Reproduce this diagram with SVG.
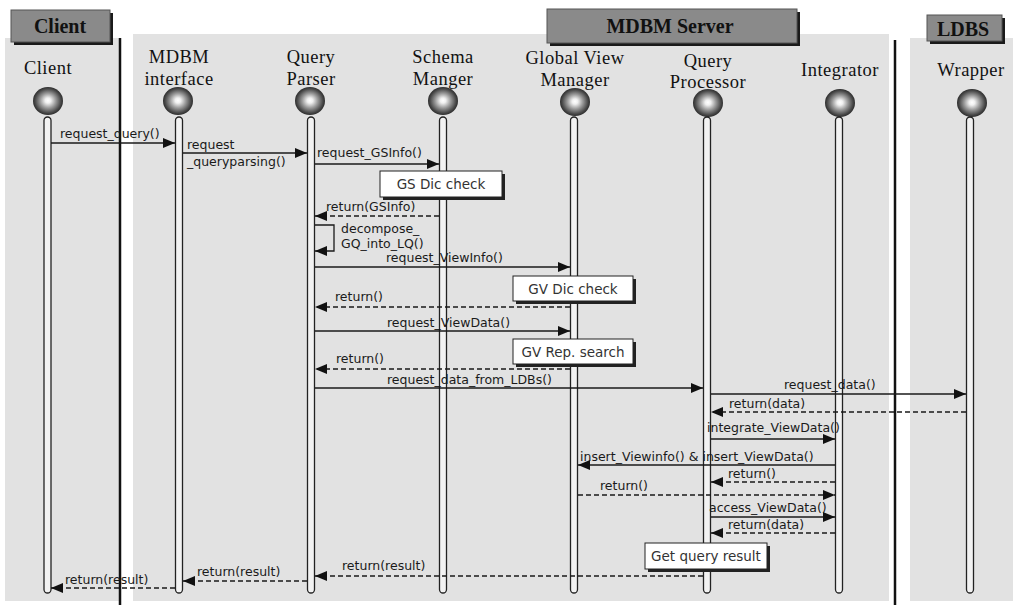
<svg xmlns="http://www.w3.org/2000/svg" width="1013" height="605" viewBox="0 0 1013 605">
<style>
.hdr{fill:#8a8a8a;stroke:#555;stroke-width:1}
.hdrsh{fill:#1a1a1a}
.hdrt{font-family:"Liberation Serif",serif;font-weight:bold;font-size:20px;fill:#111;text-anchor:middle}
.nm{font-family:"Liberation Serif",serif;font-size:18.5px;letter-spacing:0.5px;fill:#111;text-anchor:middle}
.life{fill:#f2f2f2;stroke:#222;stroke-width:1.3}
.msg{stroke:#1a1a1a;stroke-width:1.3;fill:none}
.dash{stroke-dasharray:5,3}
.lbl{font-family:"DejaVu Sans","Liberation Sans",sans-serif;font-size:12.5px;fill:#1a1a1a}
.note{fill:#fff;stroke:#222;stroke-width:1}
.notesh{fill:#222}
.notet{font-family:"DejaVu Sans","Liberation Sans",sans-serif;font-size:13.5px;fill:#333;text-anchor:middle}
</style>
<defs>
<radialGradient id="sph" cx="50%" cy="50%" r="52%" fx="50%" fy="48%">
<stop offset="0" stop-color="#ffffff"/>
<stop offset="0.18" stop-color="#f0f0f0"/>
<stop offset="0.5" stop-color="#9a9a9a"/>
<stop offset="0.82" stop-color="#4a4a4a"/>
<stop offset="1" stop-color="#262626"/>
</radialGradient>
<marker id="ah" markerUnits="userSpaceOnUse" markerWidth="13" markerHeight="10" refX="12" refY="5" orient="auto">
<path d="M0,0 L12,5 L0,10 Z" fill="#111"/>
</marker>
</defs>

<g id="background">
<rect x="0" y="0" width="1013" height="605" fill="#ffffff"/>
<rect x="5" y="38" width="114" height="563" fill="#e2e2e2"/>
<rect x="133" y="34" width="756" height="567" fill="#e2e2e2"/>
<rect x="910" y="38" width="103" height="563" fill="#e2e2e2"/>
<line x1="120" y1="38" x2="120" y2="605" stroke="#111" stroke-width="2.5"/>
<line x1="895" y1="40" x2="895" y2="605" stroke="#111" stroke-width="2.5"/>
</g>

<g id="header-client">
<rect class="hdrsh" x="14" y="13" width="99" height="32"/>
<rect class="hdr" x="11" y="10" width="99" height="32"/>
<text class="hdrt" x="60" y="33">Client</text>
</g>
<g id="header-mdbm-server">
<rect class="hdrsh" x="550" y="12" width="250" height="34"/>
<rect class="hdr" x="547" y="9" width="250" height="34"/>
<text class="hdrt" x="670" y="33">MDBM Server</text>
</g>
<g id="header-ldbs">
<rect class="hdrsh" x="930" y="18" width="75" height="26"/>
<rect class="hdr" x="927" y="15" width="75" height="26"/>
<text class="hdrt" x="963" y="36">LDBS</text>
</g>

<g id="node-client">
<text class="nm" x="48" y="74">Client</text>
<ellipse cx="48" cy="101" rx="15" ry="14" fill="url(#sph)"/>
<rect class="life" x="44" y="117" width="7" height="476" rx="3.5"/>
</g>
<g id="node-mdbm-interface">
<text class="nm" x="179" y="63">MDBM</text>
<text class="nm" x="179" y="85">interface</text>
<ellipse cx="178" cy="101" rx="15" ry="14" fill="url(#sph)"/>
<rect class="life" x="175.5" y="117" width="7" height="476" rx="3.5"/>
</g>
<g id="node-query-parser">
<text class="nm" x="311" y="63">Query</text>
<text class="nm" x="311" y="85">Parser</text>
<ellipse cx="310" cy="101" rx="15" ry="14" fill="url(#sph)"/>
<rect class="life" x="307.5" y="117" width="7" height="476" rx="3.5"/>
</g>
<g id="node-schema-manger">
<text class="nm" x="443" y="63">Schema</text>
<text class="nm" x="443" y="85">Manger</text>
<ellipse cx="443" cy="101" rx="15" ry="14" fill="url(#sph)"/>
<rect class="life" x="439.5" y="117" width="7" height="476" rx="3.5"/>
</g>
<g id="node-global-view-manager">
<text class="nm" x="575" y="64">Global View</text>
<text class="nm" x="575" y="86">Manager</text>
<ellipse cx="575" cy="102" rx="15" ry="14" fill="url(#sph)"/>
<rect class="life" x="570.5" y="117" width="7" height="476" rx="3.5"/>
</g>
<g id="node-query-processor">
<text class="nm" x="708" y="67">Query</text>
<text class="nm" x="708" y="88">Processor</text>
<ellipse cx="708" cy="103" rx="15" ry="14" fill="url(#sph)"/>
<rect class="life" x="703.5" y="117" width="7" height="476" rx="3.5"/>
</g>
<g id="node-integrator">
<text class="nm" x="840" y="76">Integrator</text>
<ellipse cx="840" cy="103" rx="15" ry="14" fill="url(#sph)"/>
<rect class="life" x="835.5" y="117" width="7" height="476" rx="3.5"/>
</g>
<g id="node-wrapper">
<text class="nm" x="971" y="76">Wrapper</text>
<ellipse cx="972" cy="103" rx="15" ry="14" fill="url(#sph)"/>
<rect class="life" x="966.5" y="117" width="7" height="476" rx="3.5"/>
</g>

<g id="connectors">
<line class="msg" x1="51" y1="143" x2="175" y2="143" marker-end="url(#ah)"/>
<text class="lbl" x="60" y="138">request_query()</text>

<line class="msg" x1="183" y1="153" x2="307" y2="153" marker-end="url(#ah)"/>
<text class="lbl" x="187" y="149">request</text>
<text class="lbl" x="187" y="166">_queryparsing()</text>

<line class="msg" x1="315" y1="164" x2="439" y2="164" marker-end="url(#ah)"/>
<text class="lbl" x="317" y="157">request_GSInfo()</text>

<line class="msg dash" x1="439" y1="216" x2="315" y2="216" marker-end="url(#ah)"/>
<text class="lbl" x="326" y="211">return(GSInfo)</text>

<polyline class="msg" points="315,225 334,225 334,251 315,251" marker-end="url(#ah)"/>
<text class="lbl" x="341" y="233">decompose_</text>
<text class="lbl" x="341" y="248">GQ_into_LQ()</text>

<line class="msg" x1="315" y1="267" x2="570" y2="267" marker-end="url(#ah)"/>
<text class="lbl" x="386" y="262">request_ViewInfo()</text>

<line class="msg dash" x1="570" y1="307" x2="315" y2="307" marker-end="url(#ah)"/>
<text class="lbl" x="335" y="301">return()</text>

<line class="msg" x1="315" y1="331" x2="570" y2="331" marker-end="url(#ah)"/>
<text class="lbl" x="387" y="327">request_ViewData()</text>

<line class="msg dash" x1="570" y1="369" x2="315" y2="369" marker-end="url(#ah)"/>
<text class="lbl" x="336" y="363">return()</text>

<line class="msg" x1="315" y1="388" x2="703" y2="388" marker-end="url(#ah)"/>
<text class="lbl" x="387" y="384">request_data_from_LDBs()</text>

<line class="msg" x1="711" y1="394" x2="966" y2="394" marker-end="url(#ah)"/>
<text class="lbl" x="784" y="389">request_data()</text>

<line class="msg dash" x1="966" y1="412" x2="711" y2="412" marker-end="url(#ah)"/>
<text class="lbl" x="729" y="408">return(data)</text>

<line class="msg" x1="711" y1="439" x2="835" y2="439" marker-end="url(#ah)"/>
<text class="lbl" x="707" y="432">integrate_ViewData()</text>

<line class="msg" x1="835" y1="465" x2="578" y2="465" marker-end="url(#ah)"/>
<text class="lbl" x="580" y="461">insert_Viewinfo() &amp; insert_ViewData()</text>

<line class="msg dash" x1="835" y1="482" x2="711" y2="482" marker-end="url(#ah)"/>
<text class="lbl" x="728" y="478">return()</text>

<line class="msg dash" x1="578" y1="495" x2="835" y2="495" marker-end="url(#ah)"/>
<text class="lbl" x="600" y="490">return()</text>

<line class="msg" x1="711" y1="517" x2="835" y2="517" marker-end="url(#ah)"/>
<text class="lbl" x="709" y="512">access_ViewData()</text>

<line class="msg dash" x1="835" y1="533" x2="711" y2="533" marker-end="url(#ah)"/>
<text class="lbl" x="728" y="529">return(data)</text>

<line class="msg dash" x1="703" y1="576" x2="315" y2="576" marker-end="url(#ah)"/>
<text class="lbl" x="342" y="570">return(result)</text>

<line class="msg dash" x1="307" y1="581" x2="183" y2="581" marker-end="url(#ah)"/>
<text class="lbl" x="197" y="576">return(result)</text>

<line class="msg dash" x1="175" y1="588" x2="51" y2="588" marker-end="url(#ah)"/>
<text class="lbl" x="65" y="584">return(result)</text>
</g>

<g id="note-gs-dic-check">
<rect class="notesh" x="383" y="174" width="122" height="26"/>
<rect class="note" x="380" y="171" width="122" height="26"/>
<text class="notet" x="441" y="189">GS Dic check</text>
</g>
<g id="note-gv-dic-check">
<rect class="notesh" x="516" y="279" width="120" height="25"/>
<rect class="note" x="513" y="276" width="120" height="25"/>
<text class="notet" x="573" y="294">GV Dic check</text>
</g>
<g id="note-gv-rep-search">
<rect class="notesh" x="516" y="342" width="120" height="25"/>
<rect class="note" x="513" y="339" width="120" height="25"/>
<text class="notet" x="573" y="357">GV Rep. search</text>
</g>
<g id="note-get-query-result">
<rect class="notesh" x="648" y="546" width="122" height="26"/>
<rect class="note" x="645" y="543" width="122" height="26"/>
<text class="notet" x="706" y="561">Get query result</text>
</g>
</svg>
